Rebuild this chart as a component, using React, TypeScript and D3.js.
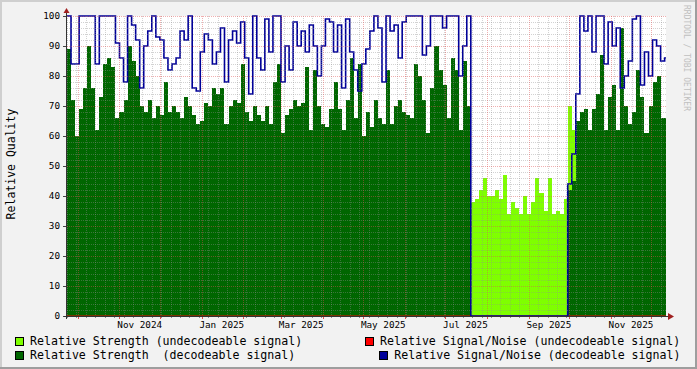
import React from 'react';
import * as d3 from 'd3';

// ---- data (one value per 3 days, starting START_DATE) ----
const START_DATE = '2024-09-23';
const END_DATE = '2025-12-12';
const STEP_DAYS = 3;

const strengthDecodeable: number[] = [
  89, 72, 60, 69, 76, 90, 76, 62, 73, 84,
  86, 83, 66, 68, 72, 90, 85, 80, 70, 68,
  72, 66, 70, 67, 78, 68, 70, 68, 66, 73,
  70, 67, 64, 65, 71, 70, 76, 74, 76, 64,
  70, 72, 71, 84, 68, 65, 70, 67, 65, 70,
  64, 78, 84, 61, 67, 69, 72, 70, 71, 83,
  62, 82, 70, 64, 63, 69, 78, 69, 62, 72,
  86, 66, 84, 60, 68, 63, 72, 66, 64, 82,
  64, 70, 72, 68, 67, 66, 84, 80, 72, 61,
  76, 90, 82, 77, 66, 86, 82, 62, 85, 70,
  0, 0, 0, 0, 0, 0, 0, 0, 0, 0,
  0, 0, 0, 0, 0, 0, 0, 0, 0, 0,
  0, 0, 0, 0, 42, 45, 65, 68, 69, 62,
  69, 74, 87, 62, 73, 77, 62, 96, 70, 64,
  68, 82, 73, 61, 70, 78, 80, 66, 66,
];

const snDecodeable: number[] = [
  100, 84, 84, 100, 100, 100, 100, 84, 100, 100,
  100, 100, 91, 86, 78, 100, 97, 92, 76, 90,
  95, 100, 93, 92, 86, 82, 84, 86, 95, 92,
  100, 76, 75, 88, 94, 92, 84, 88, 96, 78,
  92, 95, 91, 98, 86, 74, 100, 86, 82, 99,
  88, 100, 100, 78, 90, 82, 98, 90, 95, 88,
  97, 90, 80, 90, 99, 98, 88, 97, 76, 99,
  88, 82, 75, 84, 89, 95, 100, 96, 78, 100,
  95, 97, 86, 98, 100, 100, 100, 100, 87, 90,
  100, 100, 100, 96, 100, 100, 100, 80, 90, 100,
  0, 0, 0, 0, 0, 0, 0, 0, 0, 0,
  0, 0, 0, 0, 0, 0, 0, 0, 0, 0,
  0, 0, 0, 0, 44, 54, 74, 100, 95, 100,
  88, 100, 100, 84, 98, 90, 96, 76, 80, 85,
  99, 100, 77, 88, 80, 92, 90, 85, 86,
];

const strengthUndecodeable: number[] = [
  0, 0, 0, 0, 0, 0, 0, 0, 0, 0,
  0, 0, 0, 0, 0, 0, 0, 0, 0, 0,
  0, 0, 0, 0, 0, 0, 0, 0, 0, 0,
  0, 0, 0, 0, 0, 0, 0, 0, 0, 0,
  0, 0, 0, 0, 0, 0, 0, 0, 0, 0,
  0, 0, 0, 0, 0, 0, 0, 0, 0, 0,
  0, 0, 0, 0, 0, 0, 0, 0, 0, 0,
  0, 0, 0, 0, 0, 0, 0, 0, 0, 0,
  0, 0, 0, 0, 0, 0, 0, 0, 0, 0,
  0, 0, 0, 0, 0, 0, 0, 0, 0, 0,
  38, 39, 42, 46, 40, 40, 42, 39, 47, 34,
  38, 36, 34, 40, 34, 38, 46, 41, 35, 46,
  34, 35, 34, 39, 70, 62, 0, 0, 0, 0,
  0, 0, 0, 0, 0, 0, 0, 0, 0, 0,
  0, 0, 0, 0, 0, 0, 0, 0, 0,
];

const snUndecodeable: number[] = [
  0, 0, 0, 0, 0, 0, 0, 0, 0, 0,
  0, 0, 0, 0, 0, 0, 0, 0, 0, 0,
  0, 0, 0, 0, 0, 0, 0, 0, 0, 0,
  0, 0, 0, 0, 0, 0, 0, 0, 0, 0,
  0, 0, 0, 0, 0, 0, 0, 0, 0, 0,
  0, 0, 0, 0, 0, 0, 0, 0, 0, 0,
  0, 0, 0, 0, 0, 0, 0, 0, 0, 0,
  0, 0, 0, 0, 0, 0, 0, 0, 0, 0,
  0, 0, 0, 0, 0, 0, 0, 0, 0, 0,
  0, 0, 0, 0, 0, 0, 0, 0, 0, 0,
  0, 0, 0, 0, 0, 0, 0, 0, 0, 0,
  0, 0, 0, 0, 0, 0, 0, 0, 0, 0,
  0, 0, 0, 0, 0, 0, 0, 0, 0, 0,
  0, 0, 0, 0, 0, 0, 0, 0, 0, 0,
  0, 0, 0, 0, 0, 0, 0, 0, 0,
];

const yTickValues = [0, 10, 20, 30, 40, 50, 60, 70, 80, 90, 100];
const monthLabelStarts = ['2024-11-01', '2025-01-01', '2025-03-01', '2025-05-01', '2025-07-01', '2025-09-01', '2025-11-01'];
const monthLabels = ['Nov 2024', 'Jan 2025', 'Mar 2025', 'May 2025', 'Jul 2025', 'Sep 2025', 'Nov 2025'];

const legendLabels = [
  'Relative Strength (undecodeable signal)',
  'Relative Signal/Noise (undecodeable signal)',
  'Relative Strength  (decodeable signal)',
  'Relative Signal/Noise (decodeable signal)',
];

const C_LIME = '#7fff00';
const C_GREEN = '#006600';
const C_RED = '#ff0000';
const C_BLUE = '#000099';
const MONO = '"DejaVu Sans Mono", monospace';

type P = { d: Date; v: number };

export default function App() {
  const W = 697, H = 369;
  const L = 67, R = 666, T = 16, B = 316;
  const parse = d3.utcParse('%Y-%m-%d');
  const start = parse(START_DATE)!;
  const end = parse(END_DATE)!;
  const x = d3.scaleUtc().domain([start, end]).range([L, R]);
  const y = d3.scaleLinear().domain([0, 100]).range([B, T]);

  const n = strengthDecodeable.length;
  const dates = d3.range(n + 1).map((i) => d3.utcDay.offset(start, i * STEP_DAYS));
  const pts = (arr: number[]): P[] =>
    arr.map((v, i) => ({ d: dates[i], v })).concat([{ d: dates[n], v: arr[n - 1] }]);

  const area = d3
    .area<P>()
    .x((p) => x(p.d))
    .y0(B)
    .y1((p) => y(p.v))
    .curve(d3.curveStepAfter);
  const line = d3
    .line<P>()
    .x((p) => x(p.d))
    .y((p) => y(p.v))
    .curve(d3.curveStepAfter);

  const months = d3.utcMonth.range(d3.utcMonth.ceil(start), end);
  const weeks = d3.utcMonday.range(start, end).filter((d) => d.getUTCDate() !== 1);
  const minorY = d3.range(2, 100, 2).filter((v) => v % 10 !== 0);

  const minorGrid = 'rgba(143,143,143,0.4)';
  const majorGrid = 'rgba(222,80,80,0.45)';

  return (
    <svg
      width={W}
      height={H}
      viewBox={`0 0 ${W} ${H}`}
      style={{ position: 'absolute', left: 0, top: 0, display: 'block' }}
      fontFamily={MONO}
    >
      <defs>
        <clipPath id="plotclip">
          <rect x={L} y={T - 1} width={R - L} height={B - T + 1} />
        </clipPath>
      </defs>
      {/* background & 3D frame */}
      <rect x={0} y={0} width={W} height={H} fill="#f2f2f2" />
      <path d={`M0,0H${W}V2H2V${H}H0Z`} fill="#cfcfcf" />
      <path d={`M${W},${H}H0V${H - 2}H${W - 2}V0H${W}Z`} fill="#9e9e9e" />
      <rect x={L} y={T} width={R - L} height={B - T} fill="#ffffff" />

      <g clipPath="url(#plotclip)">
        <path d={area(pts(strengthUndecodeable)) || ''} fill={C_LIME} shapeRendering="crispEdges" />
        <path d={area(pts(strengthDecodeable)) || ''} fill={C_GREEN} shapeRendering="crispEdges" />
        <path d={line(pts(snUndecodeable)) || ''} fill="none" stroke={C_RED} strokeWidth={1} />
        <path d={line(pts(snDecodeable)) || ''} fill="none" stroke={C_BLUE} strokeWidth={1.6} />
      </g>

      {/* grid on top */}
      <g shapeRendering="crispEdges" strokeDasharray="1,1">
        {minorY.map((v) => (
          <line key={'hy' + v} x1={L} x2={R} y1={Math.round(y(v)) + 0.5} y2={Math.round(y(v)) + 0.5} stroke={minorGrid} />
        ))}
        {weeks.map((d, i) => (
          <line key={'vx' + i} x1={Math.round(x(d)) + 0.5} x2={Math.round(x(d)) + 0.5} y1={T} y2={B} stroke={minorGrid} />
        ))}
        {yTickValues.filter((v) => v > 0).map((v) => (
          <line key={'my' + v} x1={L} x2={R} y1={Math.round(y(v)) + 0.5} y2={Math.round(y(v)) + 0.5} stroke={majorGrid} />
        ))}
        {months.map((d, i) => (
          <line key={'mx' + i} x1={Math.round(x(d)) + 0.5} x2={Math.round(x(d)) + 0.5} y1={T} y2={B} stroke={majorGrid} />
        ))}
      </g>

      {/* axes */}
      <g shapeRendering="crispEdges">
        {weeks.map((d, i) => (
          <line key={'tw' + i} x1={Math.round(x(d)) + 0.5} x2={Math.round(x(d)) + 0.5} y1={B} y2={B + 2} stroke="#8f8f8f" />
        ))}
        {months.map((d, i) => (
          <line key={'tm' + i} x1={Math.round(x(d)) + 0.5} x2={Math.round(x(d)) + 0.5} y1={B} y2={B + 3} stroke="#de5050" />
        ))}
        {yTickValues.map((v) => (
          <line key={'ty' + v} x1={L - 4} x2={L} y1={Math.round(y(v)) + 0.5} y2={Math.round(y(v)) + 0.5} stroke="#444" />
        ))}
        <line x1={L - 3} x2={R + 3} y1={B + 0.5} y2={B + 0.5} stroke="#333" />
        <line x1={L - 0.5} x2={L - 0.5} y1={B + 3} y2={T - 3} stroke="#333" />
      </g>
      <path d={`M${R + 2},${B - 3}L${R + 8},${B + 0.5}L${R + 2},${B + 4}Z`} fill="#a02020" />
      <path d={`M${L - 3.5},${T - 3}L${L - 0.5},${T - 8}L${L + 2.5},${T - 3}Z`} fill="#a02020" />

      {/* tick labels */}
      {yTickValues.map((v) => (
        <text key={'ly' + v} x={60} y={y(v) + 3.2} textAnchor="end" fontSize={9.3} fill="#000">
          {v}
        </text>
      ))}
      {monthLabelStarts.map((s, i) => (
        <text key={'lx' + i} x={x(d3.utcDay.offset(parse(s)!, 15))} y={328} textAnchor="middle" fontSize={9.3} fill="#000">
          {monthLabels[i]}
        </text>
      ))}

      {/* y title */}
      <text transform={`translate(15,164) rotate(-90)`} textAnchor="middle" fontSize={11.5} fill="#000">
        Relative Quality
      </text>

      {/* watermark */}
      <text transform={`translate(684,5) rotate(90)`} textAnchor="start" fontSize={8} fill="#c0c0c0">
        RRDTOOL / TOBI OETIKER
      </text>

      {/* legend */}
      <g fontSize={11.6} fill="#000">
        <rect x={15.5} y={337.5} width={8} height={8} fill={C_LIME} stroke="#000" />
        <text x={30} y={344.5} style={{ whiteSpace: 'pre' }}>{legendLabels[0]}</text>
        <rect x={365.5} y={337.5} width={8} height={8} fill={C_RED} stroke="#000" />
        <text x={380} y={344.5} style={{ whiteSpace: 'pre' }}>{legendLabels[1]}</text>
        <rect x={15.5} y={351.5} width={8} height={8} fill={C_GREEN} stroke="#000" />
        <text x={30} y={358.5} style={{ whiteSpace: 'pre' }}>{legendLabels[2]}</text>
        <rect x={379.5} y={351.5} width={8} height={8} fill={C_BLUE} stroke="#000" />
        <text x={394.3} y={358.5} style={{ whiteSpace: 'pre' }}>{legendLabels[3]}</text>
      </g>
    </svg>
  );
}
